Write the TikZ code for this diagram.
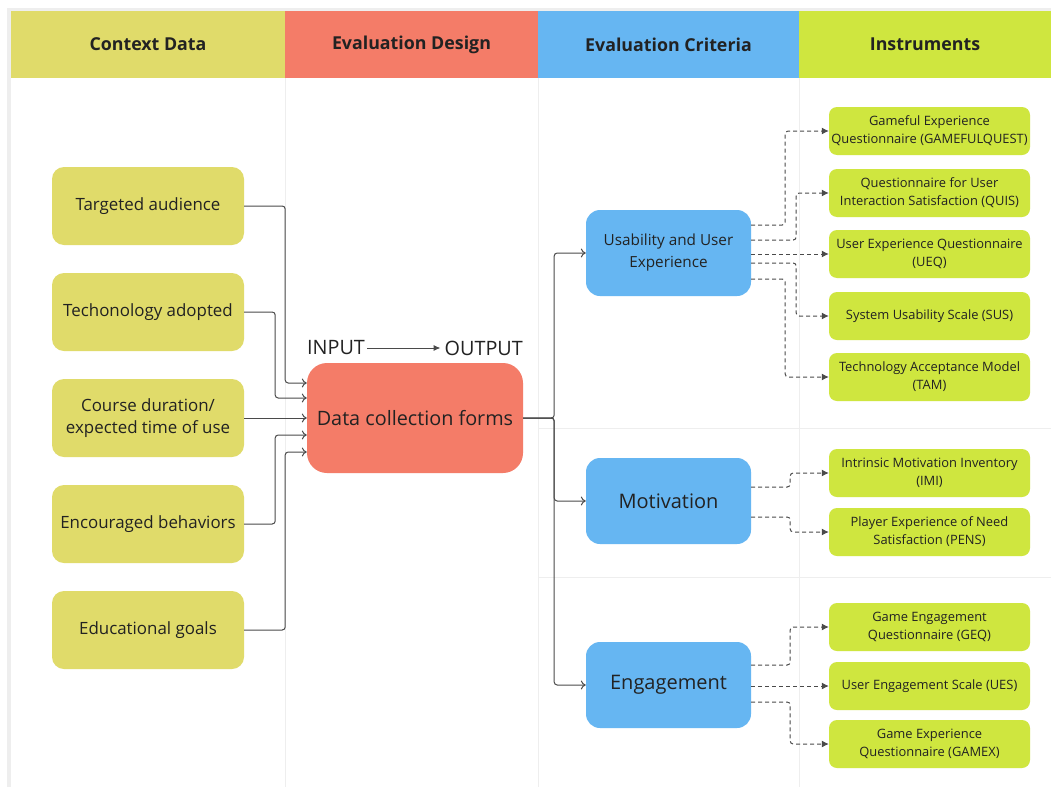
\documentclass[tikz,border=0pt]{standalone}
\usepackage{fontspec}
\setmainfont{Open Sans}
\usetikzlibrary{arrows.meta}
\definecolor{ctxcol}{HTML}{E0DB6A}
\definecolor{designcol}{HTML}{F47C68}
\definecolor{critcol}{HTML}{66B6F2}
\definecolor{instcol}{HTML}{CFE63F}
\definecolor{gridcol}{HTML}{EEEEEE}
\definecolor{linecol}{HTML}{4A4A4A}
\definecolor{textcol}{HTML}{222222}

\begin{document}
\begin{tikzpicture}[x=1pt, y=-1pt, text=textcol,
    head/.style={minimum height=67pt, inner sep=0pt, font=\fontsize{17.8}{20}\selectfont\bfseries},
    ctx/.style={fill=ctxcol, rounded corners=12pt, minimum width=192pt, minimum height=78pt, align=center, font=\fontsize{16.9}{22}\selectfont},
    crit/.style={fill=critcol, rounded corners=14pt, minimum width=165pt, minimum height=86pt, align=center},
    inst/.style={fill=instcol, rounded corners=8pt, minimum width=201pt, minimum height=48pt, inner sep=2pt, align=center, font=\fontsize{12.9}{18}\selectfont},
    feed/.style={draw=linecol, line width=1pt, rounded corners=3pt, -{To[length=5pt,width=9pt]}},
    pick/.style={draw=linecol, line width=1pt, rounded corners=3pt, dash pattern=on 4pt off 3pt, -{Latex[length=7pt,width=7pt]}},
    grid/.style={draw=gridcol, line width=1pt}]
    \useasboundingbox (0,0) rectangle (1051,787);

    % frame and table
    \fill[gridcol] (7,8) rectangle (1051,787);
    \fill[white] (11,11) rectangle (1051,787);
    \draw[grid] (285,78) -- (285,787);
    \draw[grid] (538,78) -- (538,787);
    \draw[grid] (799,78) -- (799,787);
    \draw[grid] (538,428) -- (1051,428);
    \draw[grid] (538,577) -- (1051,577);

    % column headers
    \node[head, fill=ctxcol, minimum width=274pt] (hctx) at (148,44.5) {Context Data};
    \node[head, fill=designcol, minimum width=253pt] (hdes) at (411.5,44.5) {Evaluation Design};
    \node[head, fill=critcol, minimum width=261pt] (hcrit) at (668.5,44.5) {Evaluation Criteria};
    \node[head, fill=instcol, minimum width=252pt] (hinst) at (925,44.5) {Instruments};

    % context data
    \node[ctx] (aud) at (148,206) {Targeted audience};
    \node[ctx] (tech) at (148,312) {Techonology adopted};
    \node[ctx] (dur) at (148,418) {Course duration/\\expected time of use};
    \node[ctx] (beh) at (148,524) {Encouraged behaviors};
    \node[ctx] (goal) at (148,630) {Educational goals};

    % evaluation design
    \node[fill=designcol, rounded corners=20pt, minimum width=216pt, minimum height=110pt,
          font=\fontsize{19.8}{22}\selectfont] (forms) at (415,418) {Data collection forms};
    \node[anchor=west, inner sep=0pt, font=\fontsize{19.8}{22}\selectfont] (inp) at (307,348) {INPUT};
    \node[anchor=east, inner sep=0pt, font=\fontsize{19.8}{22}\selectfont] (outp) at (523,348) {OUTPUT};
    \draw[linecol, line width=1pt, -{Latex[length=7pt,width=6pt]}] ([xshift=2pt]inp.east) -- ([xshift=-4pt]outp.west);

    % evaluation criteria
    \node[crit, font=\fontsize{15.3}{22}\selectfont] (usab) at (668.5,253) {Usability and User\\Experience};
    \node[crit, font=\fontsize{20}{22}\selectfont] (moti) at (668.5,501) {Motivation};
    \node[crit, font=\fontsize{20}{22}\selectfont] (enga) at (668.5,685) {Engagement};

    % instruments
    \node[inst] (gfq) at (929.5,131) {Gameful Experience\\Questionnaire (GAMEFULQUEST)};
    \node[inst] (quis) at (929.5,193) {Questionnaire for User\\Interaction Satisfaction (QUIS)};
    \node[inst] (ueq) at (929.5,254) {User Experience Questionnaire\\(UEQ)};
    \node[inst] (sus) at (929.5,316) {System Usability Scale (SUS)};
    \node[inst] (tam) at (929.5,377) {Technology Acceptance Model\\(TAM)};
    \node[inst] (imi) at (929.5,473) {Intrinsic Motivation Inventory\\(IMI)};
    \node[inst] (pens) at (929.5,532) {Player Experience of Need\\Satisfaction (PENS)};
    \node[inst] (geq) at (929.5,627) {Game Engagement\\Questionnaire (GEQ)};
    \node[inst] (ues) at (929.5,686) {User Engagement Scale (UES)};
    \node[inst] (gamex) at (929.5,744) {Game Experience\\Questionnaire (GAMEX)};

    % inputs into the forms
    \draw[feed] (aud.east) -- ++(41,0) |- (forms.west |- 0,383);
    \draw[feed] (tech.east) -- ++(31,0) |- (forms.west |- 0,398);
    \draw[feed] (dur.east) -- (forms.west);
    \draw[feed] (beh.east) -- ++(31,0) |- (forms.west |- 0,435);
    \draw[feed] (goal.east) -- ++(41,0) |- (forms.west |- 0,452);

    % forms to criteria
    \draw[feed] (forms.east) -- ++(31,0) |- (usab.west);
    \draw[feed] (forms.east) -- ++(31,0) |- (moti.west);
    \draw[feed] (forms.east) -- ++(31,0) |- (enga.west);

    % criteria to instruments
    \draw[pick] (usab.east |- 0,225) -- ++(34,0) |- (gfq.west);
    \draw[pick] (usab.east |- 0,240) -- ++(45,0) |- (quis.west);
    \draw[pick] (usab.east |- 0,254) -- (ueq.west);
    \draw[pick] (usab.east |- 0,263) -- ++(45,0) |- (sus.west);
    \draw[pick] (usab.east |- 0,279) -- ++(34,0) |- (tam.west);
    \draw[pick] (moti.east |- 0,487) -- ++(39,0) |- (imi.west);
    \draw[pick] (moti.east |- 0,517) -- ++(39,0) |- (pens.west);
    \draw[pick] (enga.east |- 0,665) -- ++(39,0) |- (geq.west);
    \draw[pick] (enga.east |- 0,686) -- (ues.west);
    \draw[pick] (enga.east |- 0,702) -- ++(39,0) |- (gamex.west);
\end{tikzpicture}
\end{document}
